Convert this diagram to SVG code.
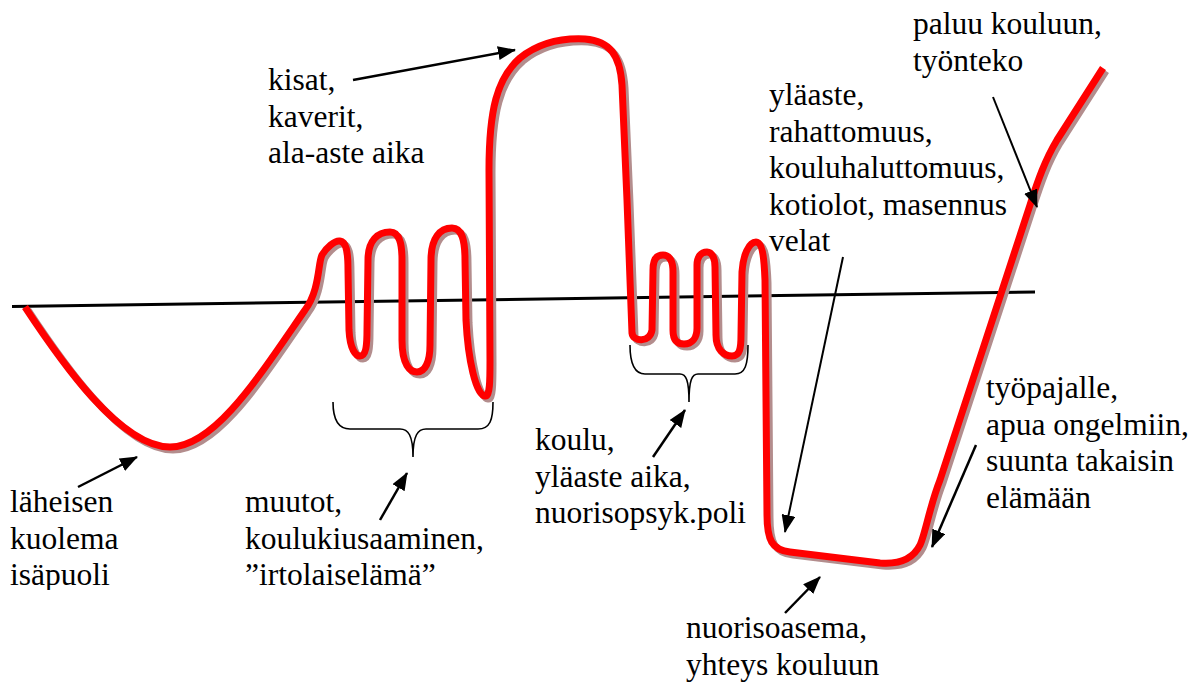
<svg xmlns="http://www.w3.org/2000/svg" width="1201" height="684" viewBox="0 0 1201 684">
<style>
  .t text { font-size: 31.5px; fill: #000; }
  .curve { fill: none; stroke: #ff0000; stroke-width: 7; stroke-linejoin: round; }
  .shadow { fill: none; stroke: #b38d8d; stroke-width: 7; stroke-linejoin: round; }
  .axis { stroke: #000; stroke-width: 3; fill: none; }
  .arrow { stroke: #000; stroke-width: 2.5; fill: none; marker-end: url(#ah); }
  .arrow.thin { stroke-width: 2; }
  .brace { stroke: #000; stroke-width: 1.6; fill: none; }
</style>
<defs>
  <marker id="ah" markerUnits="userSpaceOnUse" markerWidth="18" markerHeight="14" refX="17" refY="7" orient="auto">
    <path d="M0,0 L18,7 L0,14 z" fill="#000"/>
  </marker>
  <clipPath id="bottomclip"><rect x="0" y="0" width="1201" height="590"/></clipPath>
  <path id="life" d="M25,307 C60,360 120,447 170,447 C215,447 260,375 305,310 C320,290 318,262 322,255 C326,248 335,240 340,241 C346,242 348,250 348,270 L349,330 C350,350 356,356 360,356 C366,356 367,345 367,330 L368,260 C368,240 378,232 390,232 C400,232 402,245 402,260 L402,340 C402,365 410,372 417,372 C425,372 430,362 430,345 L431,260 C431,238 440,228 452,228 C462,228 465,240 465,260 L466,320 C468,360 476,395 485,396 C490,397 490,380 490,360 L489,170 C489,110 497,78 520,58 C540,42 565,38 585,39 C610,41 620,55 622,85 L627,200 L632,333 C633,342 650,343 652,330 L653,270 C653,260 656,255 663,255 C670,255 673,262 673,272 L673,330 C673,340 677,344 684,344 C692,344 697,338 697,328 L697,265 C697,257 701,252 707,252 C712,252 715,258 715,267 L716,335 C716,350 724,356 732,356 C740,356 741,348 741,335 L742,272 C743,255 749,242 756,242 C762,242 764,255 765,280 L767,515 C767,540 772,550 790,552 L880,563 C905,565 915,555 920,545 C925,535 930,505 940,480 L1030,205 C1038,180 1045,160 1057,140 L1103,68"/>
</defs>

<g id="axis"><path class="axis" d="M12,306.5 L1035,292"/></g>

<g id="lifeline">
  <use href="#life" class="shadow" transform="translate(3,3)"/>
  <use href="#life" class="curve"/>
</g>

<g id="braces">
  <path class="brace" d="M333,402 C333,420 338,429 350,429 L400,429 C408,429 413,435 413,457 C413,435 418,429 426,429 L478,429 C490,429 493,420 493,402"/>
  <path class="brace" d="M630,345 C630,365 635,374 645,374 L680,374 C686,374 689,380 689,402 C689,380 692,374 698,374 L735,374 C745,374 748,365 748,345"/>
</g>

<g id="connectors">
  <line class="arrow" x1="78" y1="487" x2="137" y2="457"/>
  <line class="arrow" x1="380" y1="520" x2="407" y2="473"/>
  <line class="arrow" x1="353" y1="80" x2="515" y2="50"/>
  <line class="arrow" x1="653" y1="457" x2="685" y2="410"/>
  <line class="arrow" x1="785" y1="613" x2="820" y2="577"/>
  <line class="arrow thin" x1="843" y1="257" x2="785" y2="532"/>
  <line class="arrow thin" x1="993" y1="97" x2="1037" y2="207"/>
  <line class="arrow" x1="976" y1="445" x2="932" y2="547"/>
</g>

<g class="t" font-family="'Liberation Serif', 'Times New Roman', serif">
<g id="label-laheisen" clip-path="url(#bottomclip)">
  <text x="10" y="512">läheisen</text>
  <text x="10" y="548.5">kuolema</text>
  <text x="10" y="585">isäpuoli</text>
</g>
<g id="label-muutot" clip-path="url(#bottomclip)">
  <text x="245" y="512">muutot,</text>
  <text x="245" y="548.5">koulukiusaaminen,</text>
  <text x="245" y="585">”irtolaiselämä”</text>
</g>
<g id="label-kisat">
  <text x="268" y="90">kisat,</text>
  <text x="268" y="126.5">kaverit,</text>
  <text x="268" y="163">ala-aste aika</text>
</g>
<g id="label-koulu">
  <text x="535" y="450">koulu,</text>
  <text x="535" y="486.5">yläaste aika,</text>
  <text x="535" y="523">nuorisopsyk.poli</text>
</g>
<g id="label-nuorisoasema">
  <text x="686" y="638">nuorisoasema,</text>
  <text x="686" y="675">yhteys kouluun</text>
</g>
<g id="label-paluu">
  <text x="913" y="34">paluu kouluun,</text>
  <text x="913" y="70.5">työnteko</text>
</g>
<g id="label-ylaaste">
  <text x="769" y="105">yläaste,</text>
  <text x="769" y="141.5">rahattomuus,</text>
  <text x="769" y="178">kouluhaluttomuus,</text>
  <text x="769" y="214.5">kotiolot, masennus</text>
  <text x="769" y="251">velat</text>
</g>
<g id="label-tyopajalle">
  <text x="986" y="398">työpajalle,</text>
  <text x="986" y="434.5">apua ongelmiin,</text>
  <text x="986" y="471">suunta takaisin</text>
  <text x="986" y="507.5">elämään</text>
</g>
</g>
</svg>
